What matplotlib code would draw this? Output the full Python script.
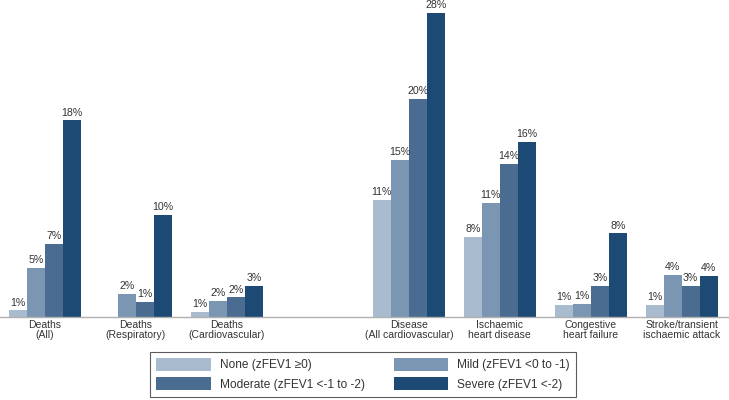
import numpy as np
import matplotlib
matplotlib.use("Agg")
import matplotlib.pyplot as plt

categories = ["Deaths\n(All)", "Deaths\n(Respiratory)", "Deaths\n(Cardiovascular)",
              "Disease\n(All cardiovascular)", "Ischaemic\nheart disease",
              "Congestive\nheart failure", "Stroke/transient\nischaemic attack"]
positions = [0, 1, 2, 4, 5, 6, 7]

series_names = ["None (zFEV1 \u22650)", "Mild (zFEV1 <0 to -1)",
                "Moderate (zFEV1 <-1 to -2)", "Severe (zFEV1 <-2)"]

none_vals = [0.6, np.nan, 0.5, 10.8, 7.4, 1.1, 1.1]
mild_vals = [4.5, 2.1, 1.5, 14.5, 10.5, 1.2, 3.9]
moderate_vals = [6.7, 1.4, 1.8, 20.1, 14.1, 2.9, 2.9]
severe_vals = [18.1, 9.4, 2.9, 28.0, 16.1, 7.7, 3.8]

none_labels = ["1%", "", "1%", "11%", "8%", "1%", "1%"]
mild_labels = ["5%", "2%", "2%", "15%", "11%", "1%", "4%"]
moderate_labels = ["7%", "1%", "2%", "20%", "14%", "3%", "3%"]
severe_labels = ["18%", "10%", "3%", "28%", "16%", "8%", "4%"]

colors = ["#a9bbcf", "#7b96b2", "#4a6c90", "#1d4a74"]

plt.rcParams["font.family"] = ["Liberation Sans", "DejaVu Sans"]

fig = plt.figure(figsize=(7.29, 4.0), dpi=100)
# baseline sits 317px from the top
ax = fig.add_axes([0.0, 83 / 400, 1.0, 317 / 400])

w = 0.198
offsets = np.array([-1.5, -0.5, 0.5, 1.5]) * w
all_vals = [none_vals, mild_vals, moderate_vals, severe_vals]
all_labels = [none_labels, mild_labels, moderate_labels, severe_labels]
x = np.array(positions, dtype=float)

handles = []
for vals, labs, off, c, name in zip(all_vals, all_labels, offsets, colors, series_names):
    v = np.array(vals, dtype=float)
    b = ax.bar(x + off, np.nan_to_num(v), width=w, color=c, label=name, linewidth=0)
    handles.append(b)
    for xi, vi, lab in zip(x + off, v, labs):
        if lab:
            ax.annotate(lab, (xi, vi), xytext=(0, 2), textcoords="offset points",
                        ha="center", va="bottom", fontsize=7.7, color="#333333")

ax.set_xlim(-0.495, 7.52)
ax.set_ylim(0, 317 / 10.86)
ax.set_xticks(positions)
ax.set_xticklabels(categories, fontsize=7.5, color="#333333", linespacing=1.0)
ax.tick_params(axis="x", length=0, pad=2)
ax.set_yticks([])
for s in ["top", "right", "left"]:
    ax.spines[s].set_visible(False)
ax.spines["bottom"].set_color("#b0b0b0")
ax.spines["bottom"].set_linewidth(1.0)

# row-wise order: None, Mild / Moderate, Severe
order = [0, 2, 1, 3]
leg = fig.legend([handles[i] for i in order], [series_names[i] for i in order],
                 loc="upper left", bbox_to_anchor=(150 / 729, 48 / 400), ncol=2,
                 fontsize=8.6, frameon=True, fancybox=False, borderaxespad=0,
                 handlelength=4.6, handleheight=1.25, handletextpad=0.75,
                 columnspacing=2.4, labelspacing=0.5, borderpad=0.5)
leg.get_frame().set_edgecolor("#333333")
leg.get_frame().set_linewidth(0.8)
for t in leg.get_texts():
    t.set_color("#333333")

fig.savefig("out.png", dpi=100)
